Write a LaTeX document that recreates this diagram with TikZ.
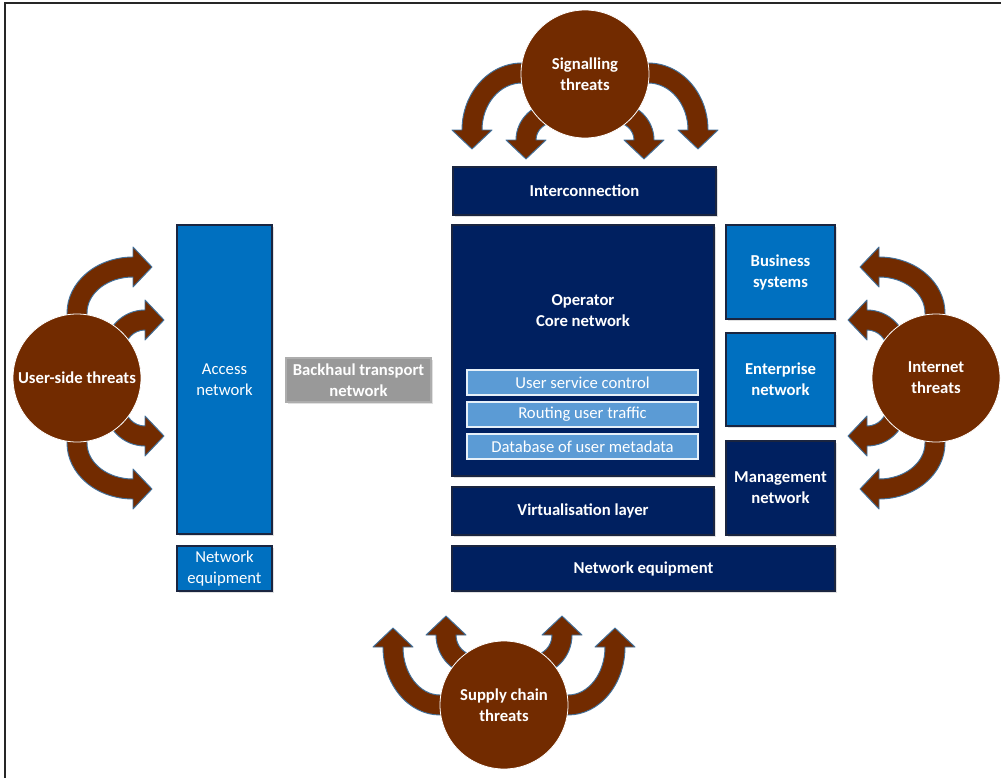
\documentclass[tikz,border=0pt]{standalone}
\usepackage{fontspec}
\setmainfont{Carlito}
\definecolor{navy}{HTML}{002060}
\definecolor{mblue}{HTML}{0070C0}
\definecolor{lblue}{HTML}{5B9BD5}
\definecolor{gry}{HTML}{999999}
\definecolor{brn}{HTML}{722B00}
\definecolor{steel}{HTML}{41719C}
\definecolor{edgec}{HTML}{1A2540}
\def\kk{0.5523}
% curved threat arrow: cx cy ux uy vx vy Ru Rv (pixel units)
\newcommand\thrarrow[8]{%
\filldraw[arrowshape]
 ({#1+(#7+10)*(#3)-15*(#5)},{#2+(#7+10)*(#4)-15*(#6)}) --
 ({#1+(#7+10)*(#3)},{#2+(#7+10)*(#4)}) ..
 controls ({#1+(#7+10)*(#3)+\kk*(#8+10)*(#5)},{#2+(#7+10)*(#4)+\kk*(#8+10)*(#6)})
 and ({#1+(#8+10)*(#5)+\kk*(#7+10)*(#3)},{#2+(#8+10)*(#6)+\kk*(#7+10)*(#4)}) ..
 ({#1+(#8+10)*(#5)},{#2+(#8+10)*(#6)}) --
 ({#1+(#8+20)*(#5)},{#2+(#8+20)*(#6)}) --
 ({#1+(#8)*(#5)-19*(#3)},{#2+(#8)*(#6)-19*(#4)}) --
 ({#1+(#8-20)*(#5)},{#2+(#8-20)*(#6)}) --
 ({#1+(#8-10)*(#5)},{#2+(#8-10)*(#6)}) ..
 controls ({#1+(#8-10)*(#5)+\kk*(#7-10)*(#3)},{#2+(#8-10)*(#6)+\kk*(#7-10)*(#4)})
 and ({#1+(#7-10)*(#3)+\kk*(#8-10)*(#5)},{#2+(#7-10)*(#4)+\kk*(#8-10)*(#6)}) ..
 ({#1+(#7-10)*(#3)},{#2+(#7-10)*(#4)}) --
 ({#1+(#7-10)*(#3)-15*(#5)},{#2+(#7-10)*(#4)-15*(#6)}) -- cycle;}
% box: name x1 y1 x2 y2 style text
\newcommand\bx[7]{%
\fill[shadowc] ({#2+2},{#3+2}) rectangle ({#4+2},{#5+2});
\node[#6, minimum width={(#4-#2)*0.75pt}, minimum height={(#5-#3)*0.75pt}]
  (#1) at ({(#2+#4)/2},{(#3+#5)/2}) {#7};}
\begin{document}
\begin{tikzpicture}[x=0.75pt,y=-0.75pt,
  shadowc/.style={fill=black!12},
  basebox/.style={rectangle, inner sep=0pt, text=white, align=center,
     font=\fontsize{12.5}{15.7}\selectfont, draw=edgec, line width=0.8pt},
  navybox/.style={basebox, fill=navy, font=\fontsize{12.5}{15.7}\selectfont\bfseries},
  bluebox/.style={basebox, fill=mblue, font=\fontsize{12.5}{15.7}\selectfont\bfseries},
  bluereg/.style={basebox, fill=mblue},
  greybox/.style={basebox, fill=gry, draw=gry!80!white, font=\fontsize{12.5}{15.7}\selectfont\bfseries},
  subbox/.style={basebox, fill=lblue, draw=white!85!lblue, line width=0.9pt},
  threat/.style={circle, fill=brn, draw=white, line width=0.6pt, minimum size=96pt,
     inner sep=0pt, text=white, align=center, font=\fontsize{12.5}{15.7}\selectfont\bfseries},
  arrowshape/.style={fill=brn, draw=steel, line width=0.7pt, line join=round},
  frame/.style={draw=black!85, line width=1.1pt}]
\useasboundingbox (0,0) rectangle (1001,778);
\fill[white] (0,0) rectangle (1001,778);
% frame (top and left edges visible)
\coordinate (fbl) at (5,778);
\coordinate (ftl) at (5,3);
\coordinate (ftr) at (1001,3);
\draw[frame] (fbl) -- (ftl) -- (ftr);

% boxes
\bx{inter}{453}{167}{716}{215}{navybox}{Interconnection}
\bx{core}{452}{225}{714}{476}{navybox}{}
\node[text=white, align=center, font=\fontsize{12.5}{15.7}\selectfont\bfseries] (coret) at (583,310.5) {Operator\\Core network};
\node[subbox, minimum width={231*0.75pt}, minimum height={25*0.75pt}] (usc) at (582.5,382.5) {User service control};
\node[subbox, minimum width={231*0.75pt}, minimum height={25*0.75pt}] (rut) at (582.5,414.5) {Routing user traffic};
\node[subbox, minimum width={231*0.75pt}, minimum height={25*0.75pt}] (dbm) at (582.5,446.5) {Database of user metadata};
\bx{virt}{452}{487}{714}{535}{navybox}{Virtualisation layer}
\bx{neteq}{452}{546}{835}{591}{navybox}{Network equipment}
\bx{bus}{726}{225}{835}{319}{bluebox}{Business\\systems}
\bx{ent}{726}{333}{835}{426}{bluebox}{Enterprise\\network}
\bx{mgmt}{726}{441}{835}{535}{navybox}{Management\\network}
\bx{access}{177}{225}{272}{534}{bluereg}{Access\\network}
\bx{neteqs}{177}{546}{272}{591}{bluereg}{Network\\equipment}
\bx{backhaul}{286}{358}{431}{402}{greybox}{Backhaul transport\\network}

% signalling threats arrows
\thrarrow{522}{130}{0}{-1}{-1}{0}{57}{50}
\thrarrow{556}{140}{0}{-1}{-1}{0}{28}{30}
\thrarrow{648}{130}{0}{-1}{1}{0}{57}{50}
\thrarrow{614}{140}{0}{-1}{1}{0}{28}{30}
% supply chain arrows
\thrarrow{440}{647}{0}{1}{-1}{0}{58}{47}
\thrarrow{475}{635}{0}{1}{-1}{0}{30}{29}
\thrarrow{568}{647}{0}{1}{1}{0}{58}{47}
\thrarrow{533}{635}{0}{1}{1}{0}{30}{29}
% user-side arrows
\thrarrow{133}{313}{-1}{0}{0}{-1}{56}{46}
\thrarrow{145}{350}{-1}{0}{0}{-1}{30}{30}
\thrarrow{133}{443}{-1}{0}{0}{1}{56}{46}
\thrarrow{145}{406}{-1}{0}{0}{1}{30}{30}
% internet arrows
\thrarrow{879}{313}{1}{0}{0}{-1}{56}{46}
\thrarrow{867}{350}{1}{0}{0}{-1}{30}{30}
\thrarrow{879}{443}{1}{0}{0}{1}{56}{46}
\thrarrow{867}{406}{1}{0}{0}{1}{30}{30}

% threat circles
\node[threat] (sig) at (585,74) {Signalling\\threats};
\node[threat] (user) at (77,378) {User-side threats};
\node[threat] (inet) at (936,378) {Internet\\threats};
\node[threat] (supply) at (504,705) {Supply chain\\threats};
\end{tikzpicture}
\end{document}
